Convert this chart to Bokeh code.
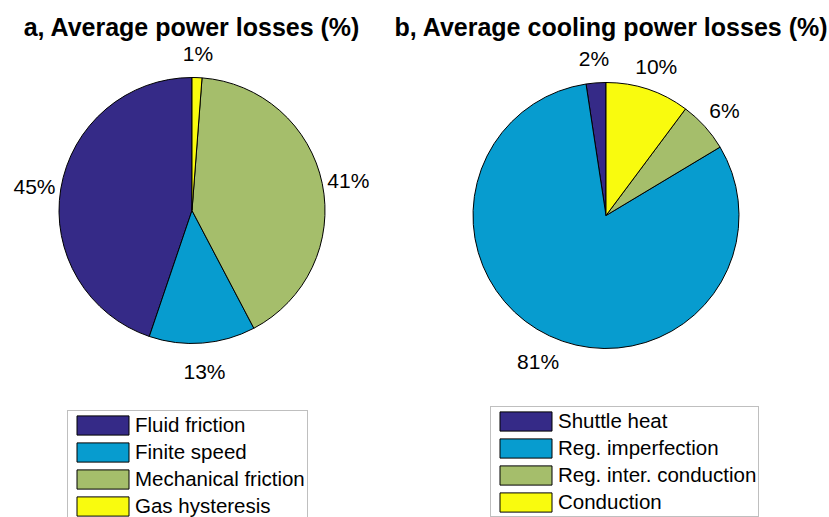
import numpy as np
from bokeh.plotting import figure
from bokeh.models import Range1d, Legend, LegendItem, ColumnDataSource
from bokeh.core.properties import value
from bokeh.embed import file_html
from bokeh.resources import INLINE

# ---- data ----
left_title = "a, Average power losses (%)"
left_names = ["Fluid friction", "Finite speed", "Mechanical friction", "Gas hysteresis"]
left_values = [44.8, 12.9, 41.1, 1.2]

right_title = "b, Average cooling power losses (%)"
right_names = ["Shuttle heat", "Reg. imperfection", "Reg. inter. conduction", "Conduction"]
right_values = [2.4, 81.2, 6.2, 10.2]

colors = ["#352A87", "#079CCF", "#A5BE6B", "#F9FB0E"]

FONT = "Liberation Sans"
W, H = 829, 517

p = figure(width=W, height=H, x_range=Range1d(0, W), y_range=Range1d(0, H),
           output_backend="svg", toolbar_location=None, min_border=0)
p.axis.visible = False
p.xgrid.visible = False
p.ygrid.visible = False
p.outline_line_color = None
p.background_fill_color = "white"


def px(x):
    return x


def py(y):
    return H - y


def draw_pie(values, names, cx, cy, r, title, tx, ty, legend_loc):
    vals = np.array(values, dtype=float)
    frac = vals / vals.sum()
    ends = np.pi / 2 + 2 * np.pi * np.cumsum(frac)
    starts = ends - 2 * np.pi * frac
    mids = (starts + ends) / 2
    src = ColumnDataSource(dict(
        start=starts, end=ends, color=colors, name=names,
        lx=cx + 1.2 * r * np.cos(mids),
        ly=cy + 1.2 * r * np.sin(mids) - 2,
        txt=[f"{int(round(v))}%" for v in vals],
    ))
    rend = p.wedge(x=cx, y=cy, radius=r, start_angle="start", end_angle="end",
                   fill_color="color", line_color="black", line_width=1, source=src)
    p.text(x="lx", y="ly", text="txt", source=src, text_align="center",
           text_baseline="middle", text_font=value(FONT), text_font_size="21px",
           text_color="black")
    p.text(x=[tx], y=[ty], text=[title], text_align="center", text_baseline="alphabetic",
           text_font=value(FONT), text_font_size="25px", text_font_style="bold",
           text_color="black")
    items = [LegendItem(label=n, renderers=[rend], index=i) for i, n in enumerate(names)]
    legend = Legend(items=items, location=legend_loc, orientation="vertical",
                    glyph_width=65, glyph_height=24, label_height=24,
                    label_standoff=0, spacing=3, padding=2, margin=0,
                    label_text_font=FONT, label_text_font_size="20.5px",
                    label_text_color="black",
                    border_line_color="#7F7F7F", border_line_width=1,
                    background_fill_color="white", background_fill_alpha=1.0)
    p.add_layout(legend)


draw_pie(left_values, left_names, px(191.5), py(210), 133, left_title,
         px(191.5), py(26), (67, -4))
draw_pie(right_values, right_names, px(605.5), py(215), 133, right_title,
         px(611), py(26), (490, 0))

open("out.html", "w").write(file_html(p, INLINE))
